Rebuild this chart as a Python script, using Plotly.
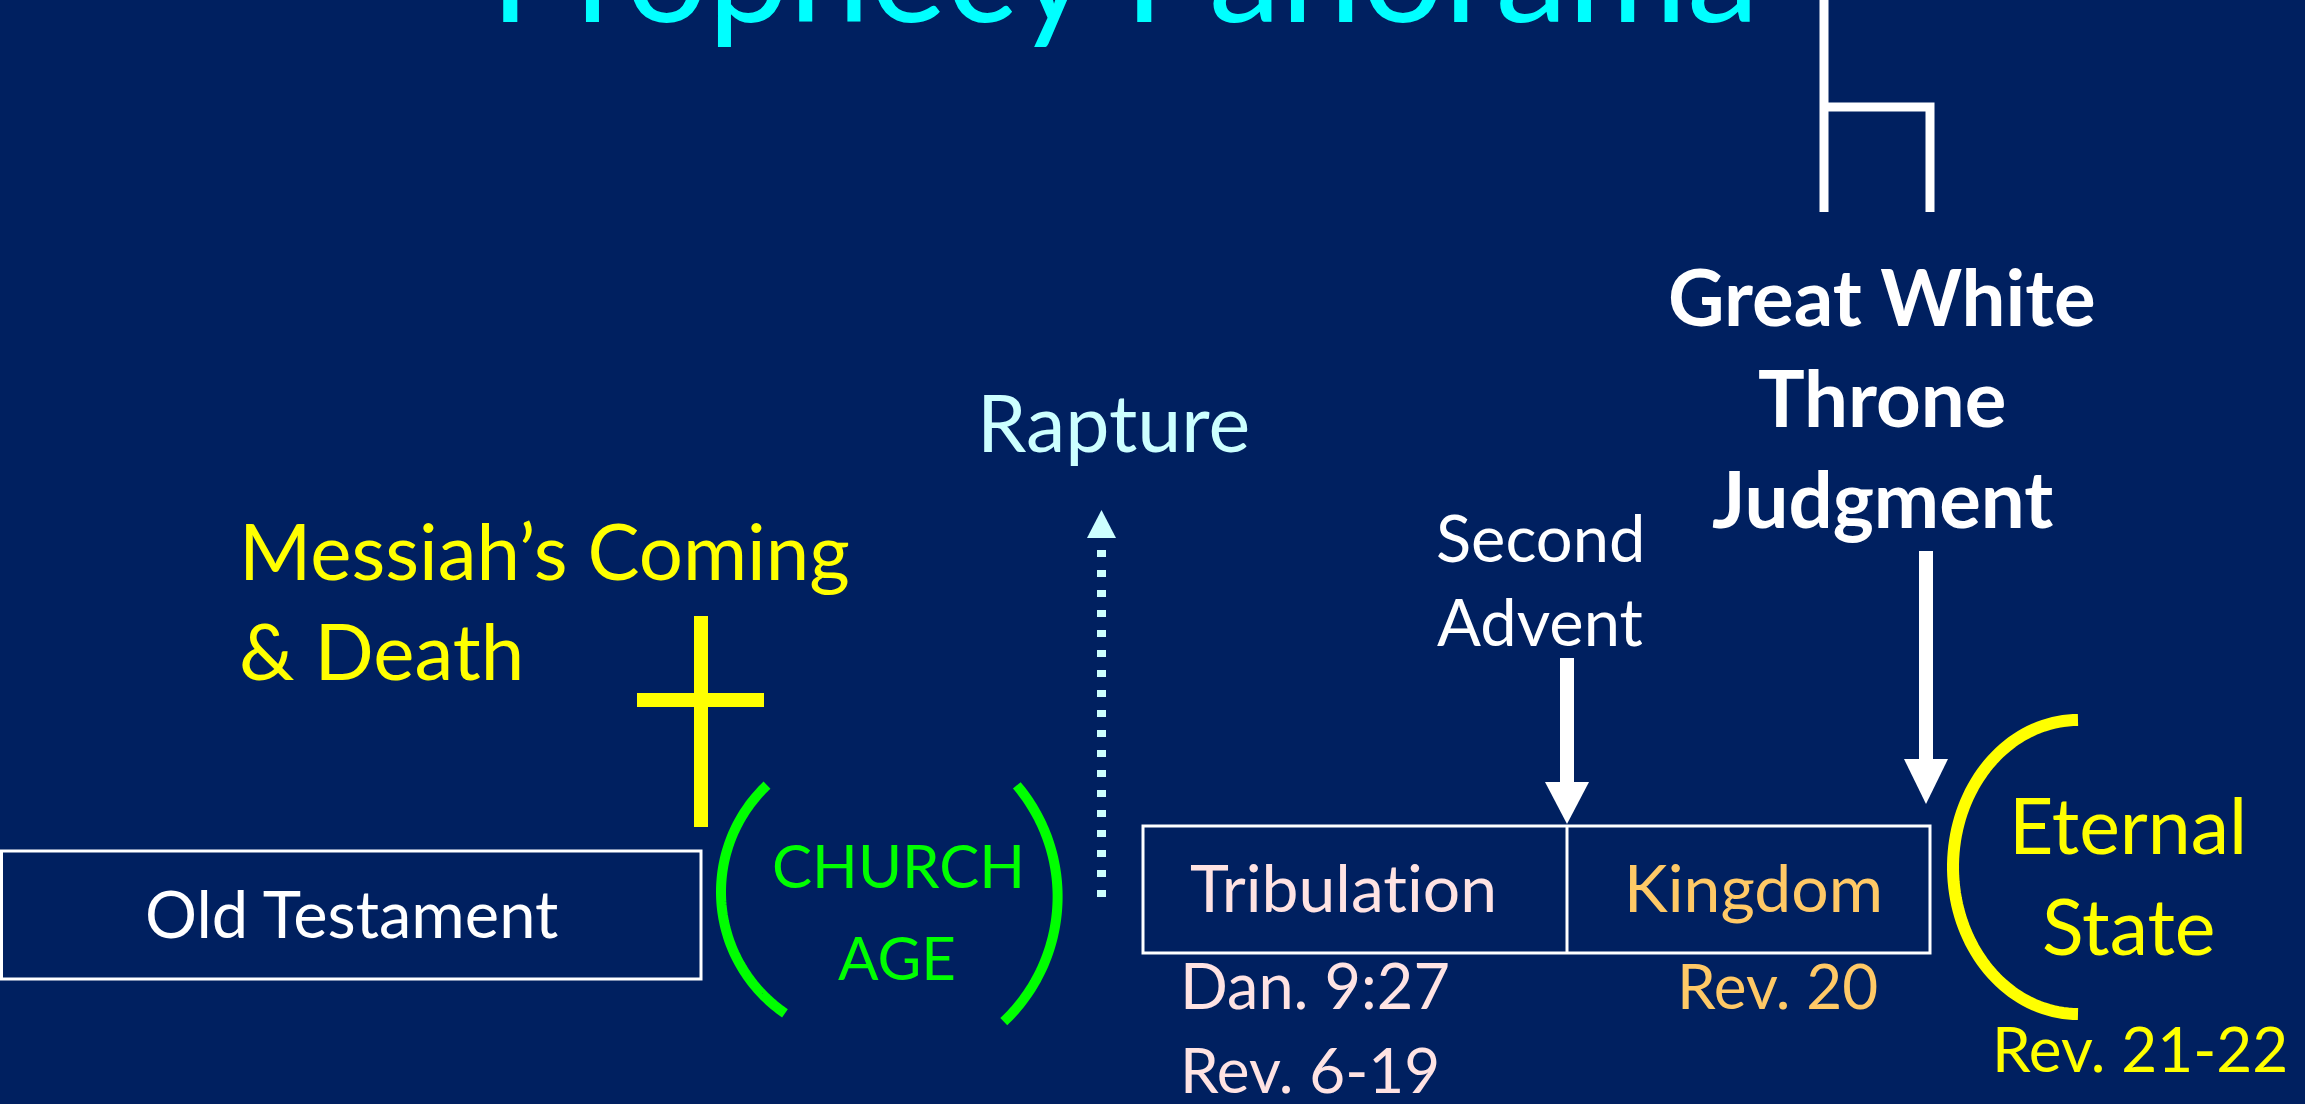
import numpy as np
import plotly.graph_objects as go

# ---------------- content (text & categories) ----------------
title_text = "Prophecy Panorama"
era_labels = ["Old Testament", "CHURCH", "AGE", "Tribulat\u200cion", "Kingdom", "Eternal", "State"]
era_colors = ["#FFFFFF", "#00FF00", "#00FF00", "#FFE3E3", "#FFC966", "#FFFF00", "#FFFF00"]
ref_labels = ["Dan. 9:27", "Rev. 6-19", "Rev. 20", "Rev. 21-22"]
ref_colors = ["#FFE3E3", "#FFE3E3", "#FFC966", "#FFFF00"]
event_labels = ["Messiah\u2019s Coming", "& Death", "Rapture", "Second", "Advent",
                "Great White", "Throne", "Judgment"]
event_colors = ["#FFFF00", "#FFFF00", "#CCFFFF", "#FFFFFF", "#FFFFFF",
                "#FFFFFF", "#FFFFFF", "#FFFFFF"]

# ---------------- layout geometry (pixels of the 2305x1104 canvas) ----------------
W, H = 2305, 1104
BG = "#002060"
FONT = "Lato"
# text placement: (x, baseline, size, anchor, weight)
era_pos = [(351, 938, 65, "center", 400), (898, 888, 60, "center", 400), (897, 980, 60, "center", 400),
           (1343, 912, 66, "center", 400), (1753, 912, 66, "center", 400),
           (2128, 854, 77, "center", 400), (2128, 955, 77, "center", 400)]
ref_pos = [(1179, 1009, 63, "left", 400), (1179, 1093, 62, "left", 400),
           (1676, 1009, 62, "left", 400), (2140, 1072, 62, "center", 400)]
event_pos = [(238, 580, 78, "left", 400), (238, 680, 78, "left", 400), (1113, 452, 79, "center", 400),
             (1540, 562, 65, "center", 400), (1540, 646, 65, "center", 400),
             (1882, 326, 78, "center", 700), (1882, 427, 78, "center", 700), (1882, 528, 78, "center", 700)]
title_pos = (1124, 23, 145, "center", 400)

fig = go.Figure()
fig.update_layout(
    width=W, height=H, margin=dict(l=0, r=0, t=0, b=0),
    paper_bgcolor=BG, plot_bgcolor=BG, showlegend=False,
    xaxis=dict(range=[0, W], visible=False, fixedrange=True),
    yaxis=dict(range=[H, 0], visible=False, fixedrange=True),
)


def add_text(text, pos, color, bottom=False):
    x, base, size, anchor, weight = pos
    if bottom:
        y, ya = base + 0.213 * size, "bottom"
    else:
        y, ya = base - 0.387 * size, "middle"
    fig.add_annotation(x=x, y=y, text=text, showarrow=False,
                       xanchor=anchor, yanchor=ya, borderpad=0,
                       font=dict(family=FONT, size=size, color=color, weight=weight))


add_text(title_text, title_pos, "#00FFFF", bottom=True)
for t, p, c in zip(era_labels, era_pos, era_colors):
    add_text(t, p, c)
for t, p, c in zip(ref_labels, ref_pos, ref_colors):
    add_text(t, p, c)
for t, p, c in zip(event_labels, event_pos, event_colors):
    add_text(t, p, c)


def line(x0, y0, x1, y1, color, width, dash=None):
    fig.add_shape(type="line", x0=x0, y0=y0, x1=x1, y1=y1,
                  line=dict(color=color, width=width, dash=dash))


def path(d, color, width=0, fill=None):
    fig.add_shape(type="path", path=d, line=dict(color=color, width=width),
                  fillcolor=fill if fill else "rgba(0,0,0,0)")


def arc_path(cx, cy, rx, ry, a0, a1, n=80):
    t = np.radians(np.linspace(a0, a1, n))
    xs = cx + rx * np.cos(t)
    ys = cy + ry * np.sin(t)
    return "M " + " L ".join(f"{x:.2f},{y:.2f}" for x, y in zip(xs, ys))


# Old Testament box
fig.add_shape(type="rect", x0=1.5, y0=851, x1=701, y1=979, line=dict(color="white", width=3))
# Tribulation / Kingdom box
fig.add_shape(type="rect", x0=1143, y0=826, x1=1930, y1=953, line=dict(color="white", width=3))
line(1567, 826, 1567, 953, "white", 3)

# Cross
line(701, 616, 701, 827, "#FFFF00", 14)
line(637, 700, 764, 700, "#FFFF00", 14)

# Church age parentheses
path(arc_path(868, 892, 147, 147, 226.6, 124.4), "#00FF00", 10)
path(arc_path(885.6, 896.6, 172, 172, -40.3, 46.6), "#00FF00", 10)

# Eternal state bracket
path(arc_path(2078, 867, 125, 147, 270, 90), "#FFFF00", 12)

# Rapture dotted arrow
line(1101.5, 897, 1101.5, 540, "#CCFFFF", 9, dash="7px,13px")
path("M 1087,538 L 1116,538 L 1101.5,510 Z", "#CCFFFF", 0, "#CCFFFF")

# Second Advent arrow
line(1567, 658, 1567, 785, "white", 14)
path("M 1545,782 L 1589,782 L 1567,824 Z", "white", 0, "white")

# Great White Throne Judgment arrow
line(1926, 551, 1926, 762, "white", 14)
path("M 1904,759 L 1948,759 L 1926,804 Z", "white", 0, "white")

# Throne symbol
path("M 1824,0 L 1824,212 M 1824,107 L 1930,107 L 1930,212", "white", 9)

fig.write_html(
    "out.html",
    config={"displayModeBar": False, "staticPlot": True},
    post_script="document.body.style.margin='0';document.body.style.overflow='hidden';"
                "document.body.style.background='" + BG + "';",
)
